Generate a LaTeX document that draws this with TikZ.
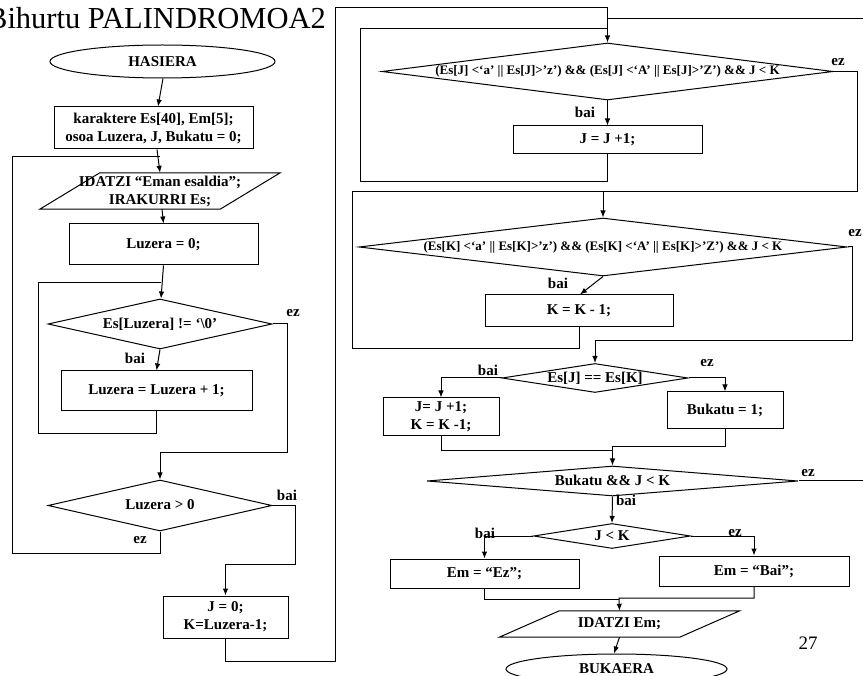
\documentclass[tikz,border=0pt]{standalone}
\usepackage{fontspec}
\setmainfont{Liberation Serif}
\usetikzlibrary{shapes.geometric,arrows.meta}
\begin{document}
\begin{tikzpicture}[x=1pt,y=-1pt,
  ln/.style={line width=1pt},
  arr/.style={-{Latex[length=7pt,width=5.5pt]}},
  txt/.style={font=\bfseries\fontsize{15}{18}\selectfont},
  lbl/.style={txt, inner sep=0pt},
  box/.style={txt, draw, line width=1pt, rectangle, inner sep=0pt, align=center},
  dia/.style={txt, draw, line width=1pt, diamond, inner sep=0pt, align=center, text height=10.5pt, text depth=2pt},
  small/.style={font=\bfseries\fontsize{13}{14}\selectfont, text height=8.5pt, text depth=1.5pt},
  term/.style={txt, draw, line width=1pt, ellipse, inner sep=0pt},
  iobody/.style={txt, rectangle, inner sep=0pt, align=center}
]
\useasboundingbox (0,0) rectangle (863,676);

% title and page number
\node[font=\fontsize{30.5}{32}\selectfont, anchor=base east, inner sep=0pt] (title) at (326,29) {Bihurtu PALINDROMOA2};
\node[font=\fontsize{19}{20}\selectfont, inner sep=0pt] (pg) at (808,643) {27};

% left column
\node[term, minimum width=225pt, minimum height=33pt] (has) at (162.5,61.5) {HASIERA};
\node[box, minimum width=199pt, minimum height=42pt] (decl) at (153.5,128) {karaktere Es[40], Em[5];\\osoa Luzera, J, Bukatu = 0;};
\node[iobody, minimum width=180pt, minimum height=36pt] (io1) at (160,191) {IDATZI “Eman esaldia”;\\IRAKURRI Es;};
\draw[ln] ([xshift=30pt]io1.north west) -- ([xshift=30pt]io1.north east) -- ([xshift=-30pt]io1.south east) -- ([xshift=-30pt]io1.south west) -- cycle;
\node[box, minimum width=189pt, minimum height=41pt] (luz0) at (163.5,244.5) {Luzera = 0;};
\node[dia, minimum width=224pt, minimum height=50pt, aspect=4.48] (ne) at (160,324) {Es[Luzera] != ‘\textbackslash0’};
\node[box, minimum width=191pt, minimum height=40pt] (luzinc) at (156.5,391) {Luzera = Luzera + 1;};
\node[dia, minimum width=224pt, minimum height=51pt, aspect=4.39] (gt0) at (160,505.5) {Luzera > 0};
\node[box, minimum width=125pt, minimum height=42pt] (jk0) at (225.5,617) {J = 0;\\K=Luzera-1;};

% right column
\node[dia, small, minimum width=451pt, minimum height=57pt, aspect=7.91] (dJ) at (607.5,71.5) {(Es[J] <‘a’ || Es[J]>’z’) \&\& (Es[J] <‘A’ || Es[J]>’Z’) \&\& J < K};
\node[box, minimum width=189pt, minimum height=28pt] (jinc) at (607.5,140) {J = J +1;};
\node[dia, small, minimum width=488pt, minimum height=58pt, aspect=8.41] (dK) at (603,247) {(Es[K] <‘a’ || Es[K]>’z’) \&\& (Es[K] <‘A’ || Es[K]>’Z’) \&\& J < K};
\node[box, minimum width=188pt, minimum height=32pt] (kdec) at (579,311) {K = K - 1;};
\node[dia, minimum width=186pt, minimum height=29pt, aspect=6.41] (deq) at (595,378) {Es[J] == Es[K]};
\node[box, minimum width=116pt, minimum height=38pt] (jkup) at (441,417) {J= J +1;\\K = K -1;};
\node[box, minimum width=116pt, minimum height=37pt] (buk1) at (725,410.5) {Bukatu = 1;};
\node[dia, minimum width=371pt, minimum height=30pt, aspect=12.37] (dB) at (612.5,481) {Bukatu \&\& J < K};
\node[dia, minimum width=157pt, minimum height=25pt, aspect=6.28] (dJK) at (612,536) {J < K};
\node[box, minimum width=189pt, minimum height=29pt] (emez) at (484.5,573.5) {Em = “Ez”;};
\node[box, minimum width=190pt, minimum height=30pt] (embai) at (754,571) {Em = “Bai”;};
\node[iobody, minimum width=180pt, minimum height=26pt] (io2) at (619.5,624) {IDATZI Em;};
\draw[ln] ([xshift=30pt]io2.north west) -- ([xshift=30pt]io2.north east) -- ([xshift=-30pt]io2.south east) -- ([xshift=-30pt]io2.south west) -- cycle;
\node[term, minimum width=221pt, minimum height=30pt] (buk) at (616.5,669) {BUKAERA};

% branch labels
\node[lbl] (l1) at (293,313) {ez};
\node[lbl] (l2) at (135,358) {bai};
\node[lbl] (l3) at (287,495) {bai};
\node[lbl] (l4) at (140,540) {ez};
\node[lbl] (l5) at (838,62) {ez};
\node[lbl] (l6) at (585,112) {bai};
\node[lbl] (l7) at (855,233) {ez};
\node[lbl] (l8) at (558,283) {bai};
\node[lbl] (l9) at (488,370) {bai};
\node[lbl] (l10) at (707,363) {ez};
\node[lbl] (l11) at (808,473) {ez};
\node[lbl] (l12) at (626,500) {bai};
\node[lbl] (l13) at (485,533) {bai};
\node[lbl] (l14) at (735,533) {ez};

% join coordinates
\coordinate (j1) at (160,157);
\coordinate (j2) at (161,283);
\coordinate (j3) at (607.5,29);
\coordinate (j4) at (607.5,19);
\coordinate (edge1) at (863,19);
\coordinate (j5) at (603,192);
\coordinate (j6) at (612.5,451);
\coordinate (edge2) at (863,481);
\coordinate (j7) at (619,599);

% connectors, left column
\draw[ln,arr] ([xshift=0.5pt]has.south) -- ([xshift=4.5pt]decl.north);
\draw[ln,arr] ([xshift=3.5pt]decl.south) -- (io1.north);
\draw[ln] (gt0.south) -- (160,553) -- (12,553) -- (12,157) -- (j1);
\draw[ln,arr] ([xshift=2pt]io1.south) -- (luz0.north);
\draw[ln,arr] (luz0.south) -- ([xshift=1pt]ne.north);
\draw[ln] (luzinc.south) -- (156.5,434) -- (38,434) -- (38,283) -- (j2);
\draw[ln,arr] (ne.east) -- (287,324) -- (287,453) -- (160,453) -- (gt0.north);
\draw[ln,arr] (ne.south) -- (luzinc.north);
\draw[ln,arr] (gt0.east) -- (295,505.5) -- (295,564) -- (225.5,564) -- (jk0.north);
\draw[ln,arr] (jk0.south) -- (225.5,661) -- (335,661) -- (335,8) -- (607.5,8) -- (dJ.north);

% connectors, right column
\draw[ln] (jinc.south) -- (607.5,182) -- (360,182) -- (360,29) -- (j3);
\draw[ln] (edge1) -- (j4);
\draw[ln,arr] (dJ.south) -- (jinc.north);
\draw[ln,arr] (dJ.east) -- (857,71.5) -- (857,192) -- (j5) -- (dK.north);
\draw[ln] (kdec.south) -- (579,349) -- (352,349) -- (352,192) -- (j5);
\draw[ln,arr] (dK.south) -- ([xshift=1pt]kdec.north);
\draw[ln,arr] (dK.east) -- (852,247) -- (852,341) -- (595,341) -- (deq.north);
\draw[ln,arr] (deq.west) -- (441,378) -- (jkup.north);
\draw[ln,arr] (deq.east) -- (725,378) -- (buk1.north);
\draw[ln] (jkup.south) -- (441,451) -- (j6);
\draw[ln,arr] (buk1.south) -- (725,447) -- (612.5,447) -- (dB.north);
\draw[ln] (dB.east) -- (edge2);
\draw[ln,arr] (dB.south) -- (dJK.north);
\draw[ln,arr] (dJK.west) -- (484.5,536) -- (emez.north);
\draw[ln,arr] (dJK.east) -- (754,536) -- (embai.north);
\draw[ln] (emez.south) -- (484.5,599) -- (j7);
\draw[ln,arr] (embai.south) -- (754,598) -- (619,598) -- (io2.north);
\draw[ln,arr] (io2.south) -- ([xshift=-2.5pt]buk.north);
\end{tikzpicture}
\end{document}
